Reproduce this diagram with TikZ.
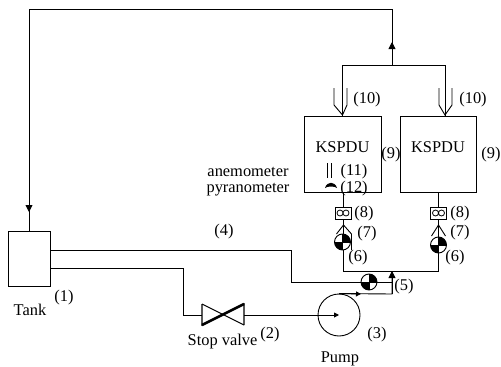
\documentclass[tikz,border=0pt]{standalone}
\usepackage{fontspec}
\setmainfont{Liberation Serif}
\usetikzlibrary{arrows.meta}
\providecommand{\pipeLineWidth}{0.9pt}
\providecommand{\labelSize}{\fontsize{16.4}{18}\selectfont}
\tikzset{
  pipe/.style={line width=\pipeLineWidth, line join=miter},
  flowtip/.style={-{Triangle[length=7pt,width=7pt]}},
  smalltip/.style={-{Triangle[length=5pt,width=5pt]}},
  unitbox/.style={draw, line width=\pipeLineWidth, inner sep=0pt, fill=white},
  tag/.style={inner sep=0pt, font=\labelSize}
}
\begin{document}
\begin{tikzpicture}[x=1pt, y=-1pt]
\useasboundingbox (0,0) rectangle (501,367);
% Units
\node[unitbox, minimum width=42pt, minimum height=55pt] (tank) at (29,259) {};
\node[unitbox, minimum width=77pt, minimum height=76pt] (kspduL) at (342.5,154) {};
\node[unitbox, minimum width=76pt, minimum height=76pt] (kspduR) at (438,154) {};
\node[unitbox, minimum width=16pt, minimum height=12pt] (flowL) at (343,213) {};
\node[unitbox, minimum width=16pt, minimum height=12pt] (flowR) at (438.5,213) {};
\node[draw, circle, line width=\pipeLineWidth, minimum size=42pt, inner sep=0pt] (pump) at (339,315) {};
% Pipe junctions
\coordinate (topL) at (29,9);
\coordinate (topR) at (392,9);
\coordinate (split) at (392,65);
\coordinate (feedL) at (342.5,65);
\coordinate (feedR) at (445,65);
\coordinate (drop) at (29,231);
\coordinate (outA) at (50,250);
\coordinate (outB) at (50,268);
\coordinate (bendA) at (291,250);
\coordinate (bendB) at (291,282);
\coordinate (bendC) at (183,268);
\coordinate (bendD) at (183,315);
\coordinate (valveL) at (202,315);
\coordinate (valveR) at (244,315);
\coordinate (mixball) at (369,282);
\coordinate (pumpout) at (392,294);
\coordinate (collect) at (392,271);
\coordinate (collectL) at (343,271);
\coordinate (collectR) at (438.5,271);
\coordinate (ballL) at (342.5,242);
\coordinate (ballR) at (438.5,245);
% Return line and feed to the units
\draw[pipe] (split) -- (topR) -- (topL) -- (drop);
\draw[pipe, flowtip] (topL) -- (29,212);
\draw[pipe, flowtip] (split) -- (392,42);
\draw[pipe] (feedL) -- (feedR);
\draw[pipe] (feedL) -- (kspduL.north -| feedL);
\draw[pipe] (feedR) -- (kspduR.north -| feedR);
% Tank outlets
\draw[pipe] (outA) -- (bendA) -- (bendB) -- (mixball);
\draw[pipe] (outB) -- (bendC) -- (bendD) -- (valveL);
\draw[pipe, smalltip] (valveR) -- (pump.center);
% Pump outlet to collector
\draw[pipe] (pump.north) -- (pumpout) -- (collect);
\draw[pipe, smalltip] (pump.north) -- (361,294);
\draw[pipe, flowtip] (pumpout) -- (392,271);
\draw[pipe] (mixball) -- (392,282);
\draw[pipe] (collectL) -- (collectR);
\draw[pipe] (collectL) -- (flowL.south);
\draw[pipe] (collectR) -- (flowR.south);
\draw[pipe] (flowL.north) -- (kspduL.south -| flowL);
\draw[pipe] (flowR.north) -- (kspduR.south -| flowR);
% Stop valve
\draw[pipe, line width=1.2pt] (valveL) ++(0,-11) -- ++(0,21) -- ++(42,-21) -- ++(0,21);
\draw[pipe] (valveL) ++(0,-11) -- ++(42,21);
\draw[line width=2.6pt] (valveL) ++(0,10) -- ++(42,-21);
% Ball valves
\begin{scope}[shift={(mixball)}]
  \fill[white] (0,0) circle (8);
  \fill (0,0) -- (8,0) arc (0:-90:8) -- cycle;
  \fill (0,0) -- (-8,0) arc (180:90:8) -- cycle;
  \draw[pipe] (0,0) circle (8);
  \draw[line width=0.5pt] (-8,0) -- (8,0) (0,-8) -- (0,8);
\end{scope}
\begin{scope}[shift={(ballL)}]
  \fill[white] (0,0) circle (8);
  \fill (0,0) -- (8,0) arc (0:-90:8) -- cycle;
  \fill (0,0) -- (-8,0) arc (180:90:8) -- cycle;
  \draw[pipe] (0,0) circle (8);
  \draw[line width=0.5pt] (-8,0) -- (8,0) (0,-8) -- (0,8);
  \draw[pipe] (-6,-8) -- (1,-17) -- (9,-8) -- (9,8);
\end{scope}
\begin{scope}[shift={(ballR)}]
  \fill[white] (0,0) circle (8);
  \fill (0,0) -- (8,0) arc (0:-90:8) -- cycle;
  \fill (0,0) -- (-8,0) arc (180:90:8) -- cycle;
  \draw[pipe] (0,0) circle (8);
  \draw[line width=0.5pt] (-8,0) -- (8,0) (0,-8) -- (0,8);
  \draw[pipe] (-7,-9) -- (0,-20) -- (7,-9);
\end{scope}
% Forks above the units
\draw[pipe] (334,88) -- (334,105) -- (342.5,115) -- (347,105) -- (347,88);
\draw[pipe] (439,88) -- (439,105) -- (445,115) -- (452,105) -- (452,88);
% Meters
\draw[line width=0.8pt] (flowL.center) ++(-3,0) circle (3) ++(6,0) circle (3);
\draw[line width=0.8pt] (flowR.center) ++(-3,0) circle (3) ++(6,0) circle (3);
\draw[line width=0.9pt] (327,163) -- (327,178) (331,163) -- (331,178);
\fill (325,188) .. controls (327,181) and (335,181) .. (337,188) .. controls (335,186) and (327,186) .. cycle;
% Labels
\node[tag] (kspduLtag) at (342.5,147) {KSPDU};
\node[tag] (kspduRtag) at (438,147) {KSPDU};
\node[tag] (anemo) at (248,171.5) {anemometer};
\node[tag] (pyrano) at (248,189.5) {pyranometer};
\node[tag] (tanktag) at (30,310) {Tank};
\node[tag] (stoptag) at (222.5,342) {Stop valve};
\node[tag] (pumptag) at (340,359) {Pump};
\node[tag] (n1) at (64,298) {(1)};
\node[tag] (n2) at (270,335) {(2)};
\node[tag] (n3) at (377,335) {(3)};
\node[tag] (n4) at (224,232) {(4)};
\node[tag] (n5) at (404,287) {(5)};
\node[tag] (n6L) at (358,258) {(6)};
\node[tag] (n6R) at (455,258) {(6)};
\node[tag] (n7L) at (367,234) {(7)};
\node[tag] (n7R) at (460,233) {(7)};
\node[tag] (n8L) at (364,214) {(8)};
\node[tag] (n8R) at (460,214) {(8)};
\node[tag] (n9L) at (391,155) {(9)};
\node[tag] (n9R) at (491,155) {(9)};
\node[tag] (n10L) at (367,100) {(10)};
\node[tag] (n10R) at (473,100) {(10)};
\node[tag] (n11) at (354,172) {(11)};
\node[tag] (n12) at (354,188.5) {(12)};
\end{tikzpicture}
\end{document}
